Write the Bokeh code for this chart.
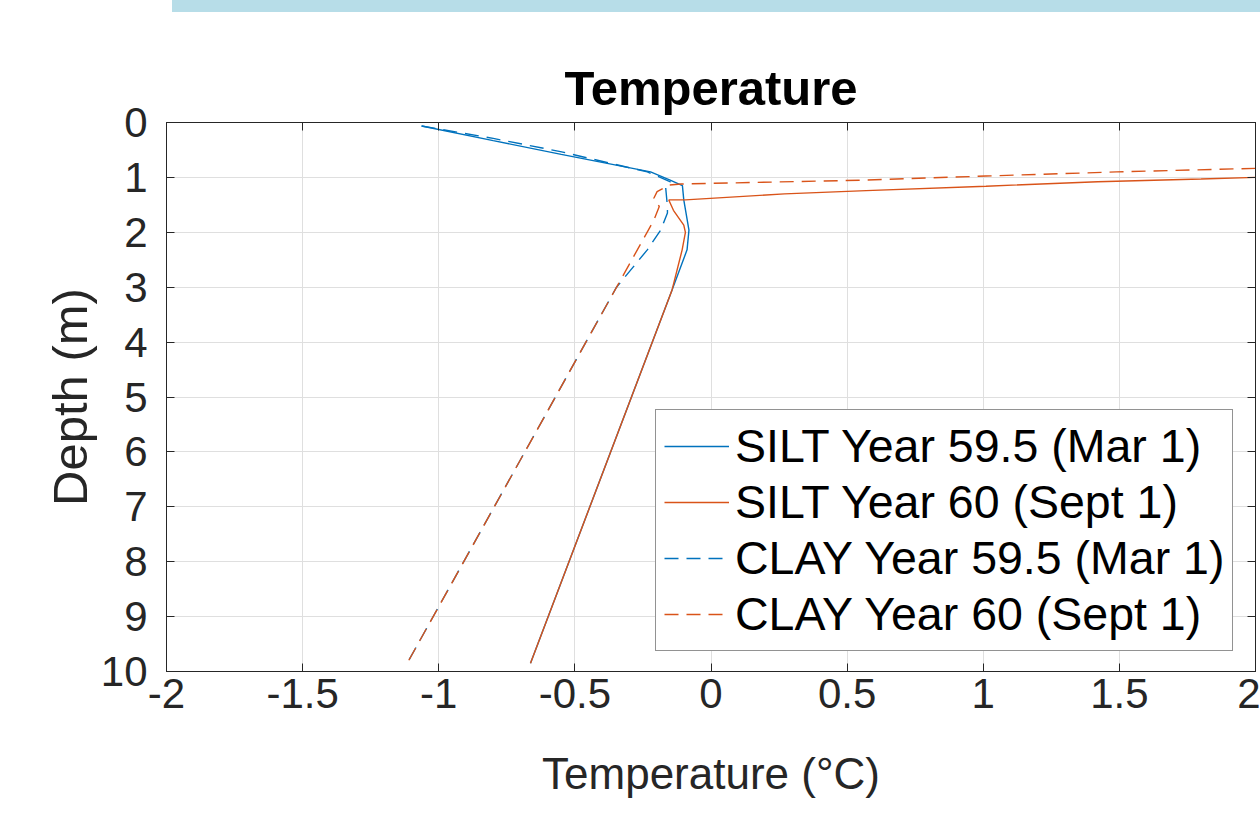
from bokeh.plotting import figure
from bokeh.models import Range1d, LinearAxis, FixedTicker, Legend, LegendItem, Div
from bokeh.layouts import column
from bokeh.embed import file_html
from bokeh.resources import INLINE

# ---- data ----
silt_mar_T = [-1.063, -0.80, -0.55, -0.222, -0.15, -0.105, -0.100, -0.081, -0.088, -0.143, -0.663]
silt_mar_d = [0.064, 0.33, 0.58, 0.90, 1.05, 1.15, 1.41, 1.96, 2.32, 3.05, 9.85]

silt_sep_T = [2.0, 1.80, 1.42, 1.01, 0.57, 0.27, -0.094, -0.155, -0.138, -0.100, -0.094, -0.106, -0.143, -0.663]
silt_sep_d = [1.0, 1.03, 1.08, 1.16, 1.24, 1.30, 1.41, 1.41, 1.60, 1.87, 2.00, 2.32, 3.05, 9.85]

clay_mar_T = [-1.063, -0.80, -0.553, -0.234, -0.149, -0.167, -0.160, -0.160, -0.185, -0.234, -0.347, -1.116]
clay_mar_d = [0.064, 0.29, 0.53, 0.90, 1.08, 1.16, 1.53, 1.65, 1.96, 2.32, 3.00, 9.85]

clay_sep_T = [2.0, 1.49, 1.01, 0.56, -0.11, -0.155, -0.198, -0.210, -0.190, -0.210, -1.116]
clay_sep_d = [0.835, 0.90, 0.975, 1.05, 1.12, 1.14, 1.26, 1.38, 1.53, 1.78, 9.85]

labels = ["SILT Year 59.5 (Mar 1)", "SILT Year 60 (Sept 1)",
          "CLAY Year 59.5 (Mar 1)", "CLAY Year 60 (Sept 1)"]
x_ticks = [-2, -1.5, -1, -0.5, 0, 0.5, 1, 1.5, 2]
x_tick_labels = ["-2", "-1.5", "-1", "-0.5", "0", "0.5", "1", "1.5", "2"]
y_ticks = [0, 1, 2, 3, 4, 5, 6, 7, 8, 9, 10]

BLUE = "#0072BD"
ORANGE = "#D95319"
AX = "#262626"
FONT = "Liberation Sans"

p = figure(width=1260, height=801, output_backend="svg", toolbar_location=None,
           x_range=Range1d(-2, 2), y_range=Range1d(10, 0),
           min_border_left=166, min_border_right=5, min_border_top=110, min_border_bottom=142,
           background_fill_color="white", border_fill_color="white")

p.title.text = "Temperature"
p.title.text_font = FONT
p.title.text_font_size = "49px"
p.title.text_font_style = "bold"
p.title.text_color = "black"
p.title.align = "center"
p.title.standoff = 15

r1 = p.line(silt_mar_T, silt_mar_d, line_color=BLUE, line_width=1.4)
r2 = p.line(silt_sep_T, silt_sep_d, line_color=ORANGE, line_width=1.4)
r3 = p.line(clay_mar_T, clay_mar_d, line_color=BLUE, line_width=1.4, line_dash="14 8")
r4 = p.line(clay_sep_T, clay_sep_d, line_color=ORANGE, line_width=1.4, line_dash="14 8")

bottom = p.below[0]
left = p.left[0]
top = LinearAxis()
right = LinearAxis()
p.add_layout(top, "above")
p.add_layout(right, "right")

bottom.ticker = FixedTicker(ticks=x_ticks)
bottom.major_label_overrides = {t: s for t, s in zip(x_ticks, x_tick_labels)}
left.ticker = FixedTicker(ticks=y_ticks)
top.ticker = FixedTicker(ticks=x_ticks)
right.ticker = FixedTicker(ticks=y_ticks)

for ax in [bottom, left, top, right]:
    ax.axis_line_color = AX
    ax.axis_line_width = 1
    ax.major_tick_line_color = AX
    ax.major_tick_in = 8
    ax.major_tick_out = 0
    ax.minor_tick_line_color = None
    ax.major_label_text_font = FONT
    ax.major_label_text_font_size = "42px"
    ax.major_label_text_color = AX

for ax in [top, right]:
    ax.major_label_text_font_size = "1px"
    ax.major_label_text_color = None
    ax.major_label_standoff = 0
    ax.axis_label = None

bottom.major_label_standoff = 7
left.major_label_standoff = 19
bottom.axis_label = "Temperature (°C)"
left.axis_label = "Depth (m)"
bottom.axis_label_text_font_size = "44px"
left.axis_label_text_font_size = "49px"
for ax in [bottom, left]:
    ax.axis_label_text_font = FONT
    ax.axis_label_text_font_style = "normal"
    ax.axis_label_text_color = AX
bottom.axis_label_standoff = 38
left.axis_label_standoff = 1

p.xgrid.ticker = FixedTicker(ticks=x_ticks)
p.ygrid.ticker = FixedTicker(ticks=y_ticks)
p.grid.grid_line_color = "#DFDFDF"
p.outline_line_color = AX

legend = Legend(items=[LegendItem(label=l, renderers=[r]) for l, r in zip(labels, [r1, r2, r3, r4])],
                location=(489, 20))
legend.label_text_font = FONT
legend.label_text_font_size = "46.5px"
legend.label_text_color = "black"
legend.label_height = 56
legend.glyph_width = 65
legend.glyph_height = 20
legend.label_standoff = 6
legend.spacing = 0
legend.padding = 8
legend.margin = 0
legend.border_line_color = AX
legend.border_line_width = 1
legend.background_fill_color = "white"
legend.background_fill_alpha = 1
p.add_layout(legend)

bar = Div(text="", width=1088, height=12, margin=(0, 0, 0, 172),
          styles={"background-color": "#B7DDE8"})

layout = column(bar, p, spacing=0)
open("out.html", "w").write(file_html(layout, INLINE))
